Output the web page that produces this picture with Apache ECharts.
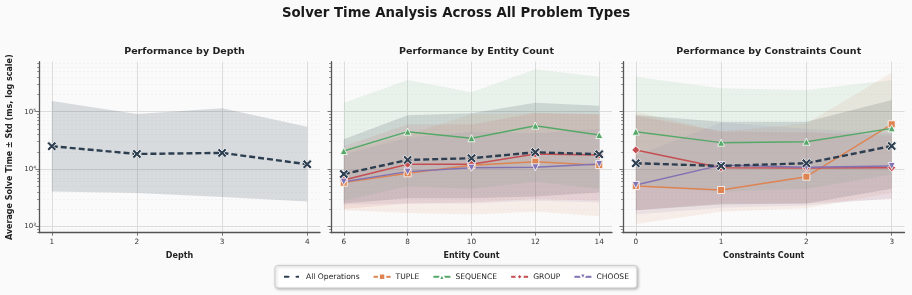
<!DOCTYPE html>
<html>
<head>
<meta charset="utf-8">
<script src="https://cdn.jsdelivr.net/npm/echarts@6/dist/echarts.min.js"></script>
<style>
html,body{margin:0;padding:0;background:#fafafa;}
#chart{width:912px;height:295px;}
</style>
</head>
<body>
<div id="chart"></div>
<script>
// ---------------- data ----------------
const seriesNames = ['All Operations', 'TUPLE', 'SEQUENCE', 'GROUP', 'CHOOSE'];

const depthX = [1, 2, 3, 4];
const depthAll = [25000, 18300, 19100, 12100];
const depthAllLo = [4060, 3800, 3230, 2710];
const depthAllHi = [154000, 91000, 115000, 54500];

const entityX = [6, 8, 10, 12, 14];
const entityAll = [8180, 14400, 15400, 19600, 18100];
const entityTuple = [5770, 8410, 11600, 13400, 11700];
const entitySeq = [20600, 44800, 34400, 57000, 39200];
const entityGroup = [6430, 12100, 12100, 18300, 17600];
const entityChoose = [6000, 8980, 10500, 10700, 12200];
const entityAllLo = [2500, 3100, 3100, 3300, 3900];
const entityAllHi = [33000, 87000, 94000, 143000, 127000];
const entityTupleLo = [1900, 1700, 1600, 1800, 1500];
const entityTupleHi = [20000, 40000, 90000, 95000, 90000];
const entitySeqLo = [2800, 5000, 4500, 6000, 4500];
const entitySeqHi = [143000, 357000, 218000, 549000, 408000];
const entityGroupLo = [2000, 2500, 2600, 3000, 2800];
const entityGroupHi = [25000, 60000, 60000, 95000, 90000];
const entityChooseLo = [2400, 2500, 2500, 2800, 2600];
const entityChooseHi = [18000, 35000, 45000, 42000, 50000];

const consX = [0, 1, 2, 3];
const consAll = [12600, 11300, 12600, 25200];
const consTuple = [5050, 4300, 7340, 60300];
const consSeq = [44800, 28800, 29900, 51300];
const consGroup = [21500, 10500, 10400, 10500];
const consChoose = [5260, 11700, 10700, 11300];
const consAllLo = [1900, 2400, 2500, 4500];
const consAllHi = [87500, 66800, 66800, 160000];
const consTupleLo = [1100, 1800, 2060, 3800];
const consTupleHi = [100000, 45000, 62000, 480000];
const consSeqLo = [5000, 4000, 4500, 8000];
const consSeqHi = [408000, 256000, 239000, 357000];
const consGroupLo = [1900, 2500, 2500, 3000];
const consGroupHi = [85000, 45000, 44000, 38000];
const consChooseLo = [1600, 2100, 2300, 3100];
const consChooseHi = [17000, 65000, 50000, 42000];

const panelTitles = ['Performance by Depth', 'Performance by Entity Count', 'Performance by Constraints Count'];
const xNames = ['Depth', 'Entity Count', 'Constraints Count'];
const yMajorTicks = [3, 4, 5];            // log10 exponents
const yMajorLabels = ['10\u00b3', '10\u2074', '10\u2075'];
const minorMultipliers = [2, 3, 4, 5, 6, 7, 8, 9];
const minorDecades = [2, 3, 4, 5];

// ---------------- styles ----------------
const FONT = 'DejaVu Sans';
const colors = {
  'All Operations': '#2c3e50',
  'TUPLE': '#dd8452',
  'SEQUENCE': '#55a868',
  'GROUP': '#c44e52',
  'CHOOSE': '#8172b3'
};
const xPath = 'path://M2,0 L5,3 L8,0 L10,2 L7,5 L10,8 L8,10 L5,7 L2,10 L0,8 L3,5 L0,2 Z';
const symbols = {
  'All Operations': {symbol: xPath, size: 9.5, rotate: 0},
  'TUPLE': {symbol: 'rect', size: 7, rotate: 0},
  'SEQUENCE': {symbol: 'triangle', size: 7, rotate: 0},
  'GROUP': {symbol: 'diamond', size: 8, rotate: 0},
  'CHOOSE': {symbol: 'triangle', size: 7, rotate: 180}
};

const Y_MIN = 2.888, Y_MAX = 5.873;
const L = Math.log10;
const minorTicks = [];
minorDecades.forEach(d => minorMultipliers.forEach(m => {
  const v = d + L(m);
  if (v > Y_MIN && v < Y_MAX) minorTicks.push(v);
}));

const grids = [
  {left: 39, top: 61.7, width: 281, height: 171},
  {left: 331, top: 61.7, width: 281, height: 171},
  {left: 623, top: 61.7, width: 281.5, height: 171}
];
const xRanges = [[0.85, 4.15], [5.6, 14.4], [-0.15, 3.15]];
const xTicks = [depthX, entityX, consX];

const spineColor = '#555555';
const xAxes = [], yAxes = [], series = [];

grids.forEach((g, i) => {
  xAxes.push({
    type: 'value', gridIndex: i, min: xRanges[i][0], max: xRanges[i][1],
    name: xNames[i], nameLocation: 'middle', nameGap: 19,
    nameTextStyle: {fontFamily: FONT, fontWeight: 'bold', fontSize: 8, color: '#222'},
    axisLine: {show: true, onZero: false, lineStyle: {color: spineColor, width: 1.3}},
    axisTick: {show: true, length: 3, lineStyle: {color: spineColor, width: 0.8}, customValues: xTicks[i]},
    axisLabel: {fontFamily: FONT, fontSize: 7.3, color: '#333', margin: 5.5, customValues: xTicks[i]},
    splitLine: {show: true, lineStyle: {color: '#dcdcdc', width: 1}}
  });
  yAxes.push({
    type: 'value', gridIndex: i, min: Y_MIN, max: Y_MAX, position: 'left',
    name: i === 0 ? 'Average Solve Time \u00b1 Std (ms, log scale)' : '',
    nameLocation: 'middle', nameGap: 25,
    nameTextStyle: {fontFamily: FONT, fontWeight: 'bold', fontSize: 8, color: '#222'},
    axisLine: {show: true, onZero: false, lineStyle: {color: spineColor, width: 1.3}},
    axisTick: {show: true, length: 3.5, lineStyle: {color: spineColor, width: 0.8}, customValues: yMajorTicks},
    axisLabel: {show: i === 0, fontFamily: FONT, fontSize: 7, color: '#333', margin: 3,
      customValues: yMajorTicks,
      formatter: v => yMajorLabels[yMajorTicks.indexOf(Math.round(v))] || ''},
    splitLine: {show: true, lineStyle: {color: '#dcdcdc', width: 1.2}}
  });
  yAxes.push({
    type: 'value', gridIndex: i, min: Y_MIN, max: Y_MAX, position: 'left',
    axisLine: {show: false, onZero: false},
    axisTick: {show: true, length: 2, lineStyle: {color: spineColor, width: 0.6}, customValues: minorTicks},
    axisLabel: {show: false},
    splitLine: {show: true, lineStyle: {color: '#ececec', width: 0.6, type: [2, 2]}}
  });
});

function toPairs(xs, ys) { return xs.map((x, k) => [x, L(ys[k])]); }

function addBand(panel, name, xs, lo, hi, alpha) {
  const upper = toPairs(xs, hi);
  const lower = toPairs(xs, lo);
  series.push({
    type: 'custom', name: 'band-' + panel + '-' + name,
    xAxisIndex: panel, yAxisIndex: panel * 2,
    data: [[xs[0], L(lo[0])]],
    clip: true, silent: true, z: 1,
    renderItem: function (params, api) {
      const pts = upper.map(p => api.coord(p)).concat(lower.slice().reverse().map(p => api.coord(p)));
      return {
        type: 'polygon', shape: {points: pts},
        style: {fill: colors[name], opacity: alpha}
      };
    }
  });
}

function addLine(panel, name, xs, ys) {
  const isAll = name === 'All Operations';
  const s = symbols[name];
  series.push({
    type: 'line', name: name, xAxisIndex: panel, yAxisIndex: panel * 2,
    data: toPairs(xs, ys), symbol: s.symbol, symbolSize: s.size, symbolRotate: s.rotate,
    showSymbol: true,
    lineStyle: {color: colors[name], width: isAll ? 2.4 : 1.4, type: isAll ? [6, 3] : 'solid'},
    itemStyle: {color: colors[name], borderColor: '#ffffff', borderWidth: 0.8},
    z: isAll ? 5 : 4
  });
}

// Panel 1: depth
addBand(0, 'All Operations', depthX, depthAllLo, depthAllHi, 0.16);
addLine(0, 'All Operations', depthX, depthAll);

// Panel 2: entity count
addBand(1, 'All Operations', entityX, entityAllLo, entityAllHi, 0.16);
addBand(1, 'TUPLE', entityX, entityTupleLo, entityTupleHi, 0.1);
addBand(1, 'SEQUENCE', entityX, entitySeqLo, entitySeqHi, 0.1);
addBand(1, 'GROUP', entityX, entityGroupLo, entityGroupHi, 0.1);
addBand(1, 'CHOOSE', entityX, entityChooseLo, entityChooseHi, 0.1);
addLine(1, 'TUPLE', entityX, entityTuple);
addLine(1, 'SEQUENCE', entityX, entitySeq);
addLine(1, 'GROUP', entityX, entityGroup);
addLine(1, 'CHOOSE', entityX, entityChoose);
addLine(1, 'All Operations', entityX, entityAll);

// Panel 3: constraints count
addBand(2, 'All Operations', consX, consAllLo, consAllHi, 0.16);
addBand(2, 'TUPLE', consX, consTupleLo, consTupleHi, 0.1);
addBand(2, 'SEQUENCE', consX, consSeqLo, consSeqHi, 0.1);
addBand(2, 'GROUP', consX, consGroupLo, consGroupHi, 0.1);
addBand(2, 'CHOOSE', consX, consChooseLo, consChooseHi, 0.1);
addLine(2, 'TUPLE', consX, consTuple);
addLine(2, 'SEQUENCE', consX, consSeq);
addLine(2, 'GROUP', consX, consGroup);
addLine(2, 'CHOOSE', consX, consChoose);
addLine(2, 'All Operations', consX, consAll);

const titles = [{
  text: 'Solver Time Analysis Across All Problem Types', left: 'center', top: 2,
  textStyle: {fontFamily: FONT, fontWeight: 'bold', fontSize: 13.3, color: '#1a1a1a'}
}];
grids.forEach((g, i) => {
  titles.push({
    text: panelTitles[i], left: g.left + g.width / 2, top: 42, textAlign: 'center',
    textStyle: {fontFamily: FONT, fontWeight: 'bold', fontSize: 9.5, color: '#222'}
  });
});

const chart = echarts.init(document.getElementById('chart'), null, {renderer: 'canvas'});
chart.setOption({
  backgroundColor: '#fafafa',
  animation: false,
  title: titles,
  grid: grids,
  xAxis: xAxes,
  yAxis: yAxes,
  legend: {
    data: seriesNames,
    left: 'center', bottom: 7,
    itemWidth: 17, itemHeight: 8, itemGap: 13,
    textStyle: {fontFamily: FONT, fontSize: 7.6, color: '#222'},
    backgroundColor: '#ffffff', borderColor: '#cccccc', borderWidth: 1, borderRadius: 3,
    padding: [7, 8],
    shadowBlur: 3, shadowColor: 'rgba(0,0,0,0.25)', shadowOffsetX: 1, shadowOffsetY: 1
  },
  series: series
});
</script>
</body>
</html>
